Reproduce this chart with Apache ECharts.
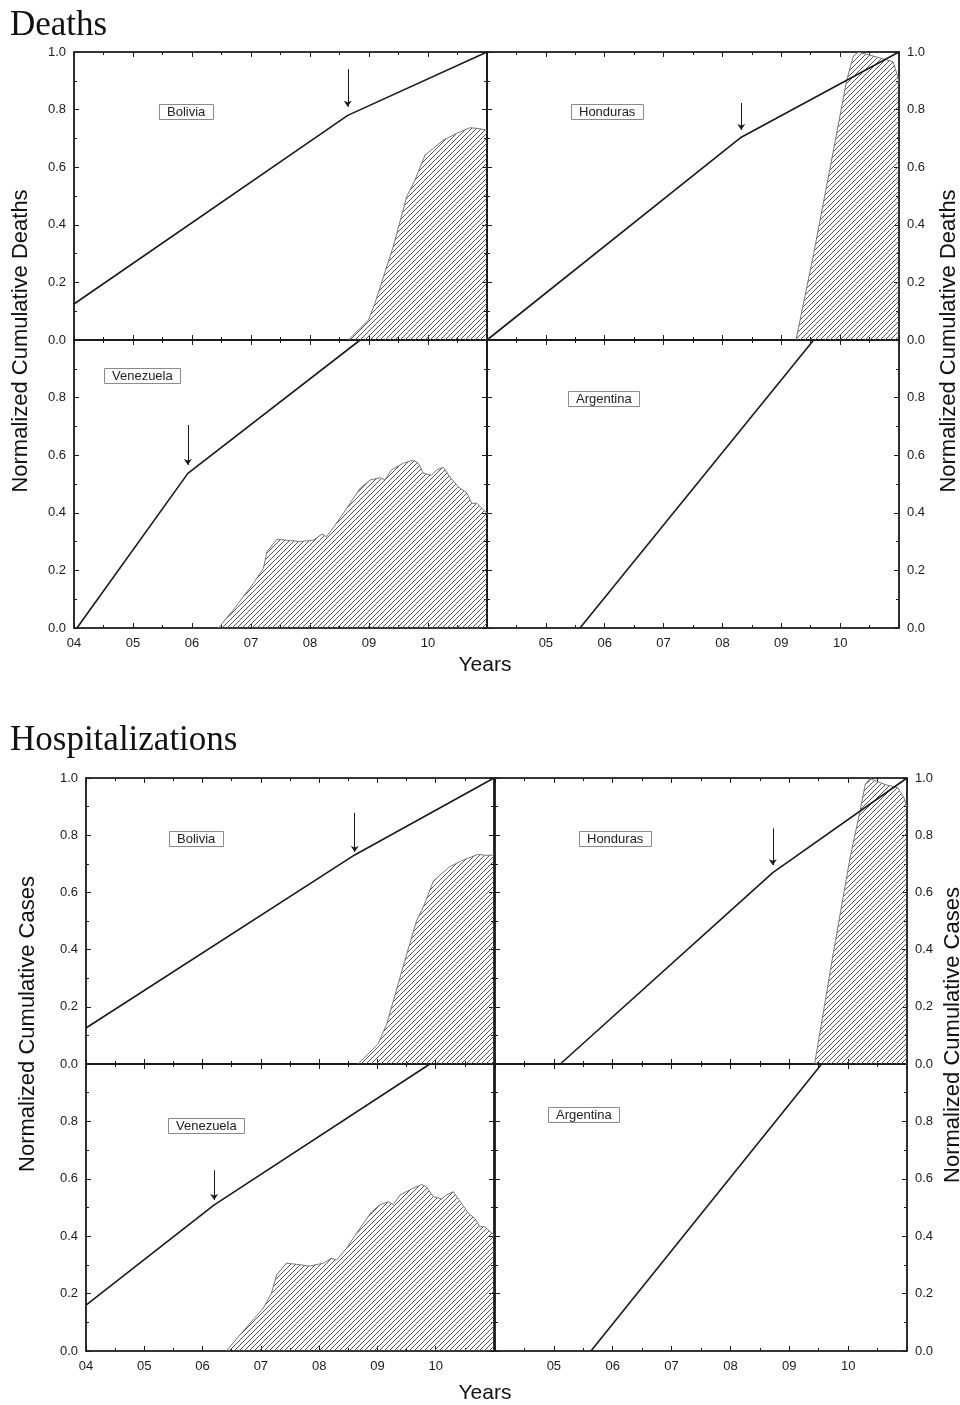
<!DOCTYPE html>
<html>
<head>
<meta charset="utf-8">
<script src="https://cdn.jsdelivr.net/npm/echarts@6/dist/echarts.min.js"></script>
<style>
  html, body { margin: 0; padding: 0; background: #fff; }
  #chart { width: 960px; height: 1405px; }
</style>
</head>
<body>
<div id="chart"></div>
<script>
// x = year (4 -> 2004), y = normalized cumulative value
const yearLabels = ["04", "05", "06", "07", "08", "09", "10", "11"]
const yTickLabels = ["0.0", "0.2", "0.4", "0.6", "0.8", "1.0"]

// Deaths: cumulative lines
const deathsBoliviaLine = [[4.0, 0.125], [8.64, 0.78], [11.0, 1.0]]
const deathsHondurasLine = [[4.0, 0.0], [8.32, 0.704], [11.0, 1.0]]
const deathsVenezuelaLine = [[4.05, 0.0], [5.93, 0.537], [8.85, 1.0]]
const deathsArgentinaLine = [[5.58, 0.0], [9.55, 1.0]]

// Deaths: hatched curves
const deathsBoliviaShade = [[8.65, 0], [8.99, 0.069], [9.10, 0.127], [9.41, 0.324], [9.64, 0.498], [9.78, 0.556], [9.95, 0.642], [10.26, 0.694], [10.49, 0.718], [10.71, 0.737], [10.83, 0.735], [11.0, 0.729]]
const deathsHondurasShade = [[9.25, 0], [9.55, 0.3], [9.85, 0.62], [10.11, 0.9], [10.22, 0.984], [10.30, 1.0], [10.56, 0.986], [10.90, 0.966], [10.98, 0.914], [11.0, 0.89]]
const deathsVenezuelaShade = [[6.45, 0], [6.70, 0.063], [7.04, 0.155], [7.21, 0.207], [7.27, 0.265], [7.44, 0.308], [7.60, 0.305], [7.83, 0.30], [8.06, 0.305], [8.20, 0.326], [8.28, 0.317], [8.45, 0.364], [8.68, 0.433], [8.85, 0.485], [9.02, 0.514], [9.19, 0.522], [9.27, 0.514], [9.38, 0.549], [9.58, 0.572], [9.75, 0.583], [9.84, 0.572], [9.92, 0.537], [10.06, 0.531], [10.15, 0.549], [10.26, 0.558], [10.37, 0.525], [10.51, 0.491], [10.66, 0.468], [10.74, 0.433], [10.83, 0.433], [11.0, 0.398]]
const deathsArgentinaShade = []

// Deaths: arrows [x, from, to]
const deathsBoliviaArrow = [8.64, 0.94, 0.81]
const deathsHondurasArrow = [8.32, 0.823, 0.729]
const deathsVenezuelaArrow = [5.93, 0.705, 0.566]

// Hospitalizations: cumulative lines
const casesBoliviaLine = [[4.0, 0.126], [8.61, 0.731], [11.0, 1.0]]
const casesHondurasLine = [[5.11, 0.0], [8.72, 0.669], [11.0, 1.0]]
const casesVenezuelaLine = [[4.0, 0.16], [6.20, 0.509], [9.90, 1.0]]
const casesArgentinaLine = [[5.63, 0.0], [9.55, 1.0]]

// Hospitalizations: hatched curves
const casesBoliviaShade = [[8.67, 0], [9.01, 0.07], [9.16, 0.14], [9.44, 0.34], [9.67, 0.50], [9.81, 0.56], [9.96, 0.64], [10.24, 0.69], [10.47, 0.713], [10.73, 0.733], [10.84, 0.73], [11.0, 0.73]]
const casesHondurasShade = [[9.43, 0], [9.75, 0.39], [10.03, 0.718], [10.20, 0.883], [10.29, 0.977], [10.37, 0.998], [10.63, 0.977], [10.85, 0.965], [10.95, 0.93], [11.0, 0.9]]
const casesVenezuelaShade = [[6.41, 0], [6.64, 0.056], [7.04, 0.149], [7.18, 0.20], [7.27, 0.265], [7.44, 0.306], [7.61, 0.302], [7.84, 0.296], [8.07, 0.306], [8.21, 0.323], [8.30, 0.317], [8.47, 0.358], [8.70, 0.428], [8.90, 0.485], [9.04, 0.509], [9.19, 0.52], [9.27, 0.51], [9.39, 0.544], [9.61, 0.567], [9.76, 0.58], [9.84, 0.572], [9.96, 0.538], [10.10, 0.53], [10.19, 0.544], [10.30, 0.555], [10.44, 0.515], [10.56, 0.48], [10.67, 0.462], [10.76, 0.433], [10.84, 0.433], [11.0, 0.404]]
const casesArgentinaShade = []

// Hospitalizations: arrows [x, from, to]
const casesBoliviaArrow = [8.61, 0.878, 0.741]
const casesHondurasArrow = [8.72, 0.824, 0.695]
const casesVenezuelaArrow = [6.20, 0.63, 0.526]

const panels = [
  { name: "Bolivia", box: [74, 52, 413, 288], left: true, bottom: false, line: deathsBoliviaLine, shade: deathsBoliviaShade, arrow: deathsBoliviaArrow, label: [159, 104] },
  { name: "Honduras", box: [487, 52, 412, 288], left: false, bottom: false, line: deathsHondurasLine, shade: deathsHondurasShade, arrow: deathsHondurasArrow, label: [571, 104] },
  { name: "Venezuela", box: [74, 340, 413, 288], left: true, bottom: true, line: deathsVenezuelaLine, shade: deathsVenezuelaShade, arrow: deathsVenezuelaArrow, label: [104, 368] },
  { name: "Argentina", box: [487, 340, 412, 288], left: false, bottom: true, line: deathsArgentinaLine, shade: deathsArgentinaShade, arrow: null, label: [568, 391] },
  { name: "Bolivia", box: [86, 778, 408, 286], left: true, bottom: false, line: casesBoliviaLine, shade: casesBoliviaShade, arrow: casesBoliviaArrow, label: [169, 831] },
  { name: "Honduras", box: [495, 778, 412, 286], left: false, bottom: false, line: casesHondurasLine, shade: casesHondurasShade, arrow: casesHondurasArrow, label: [579, 831] },
  { name: "Venezuela", box: [86, 1064, 408, 287], left: true, bottom: true, line: casesVenezuelaLine, shade: casesVenezuelaShade, arrow: casesVenezuelaArrow, label: [168, 1118] },
  { name: "Argentina", box: [495, 1064, 412, 287], left: false, bottom: true, line: casesArgentinaLine, shade: casesArgentinaShade, arrow: null, label: [548, 1107] }
]

const chart = echarts.init(document.getElementById("chart"), null, { renderer: "canvas" })

// diagonal hatch pattern for the shaded curves
const hatch = document.createElement("canvas")
hatch.width = 5
hatch.height = 5
const hctx = hatch.getContext("2d")
hctx.strokeStyle = "#555"
hctx.lineWidth = 1
hctx.beginPath()
hctx.moveTo(0, 5); hctx.lineTo(5, 0)
hctx.moveTo(-1, 1); hctx.lineTo(1, -1)
hctx.moveTo(4, 6); hctx.lineTo(6, 4)
hctx.stroke()

const font = "Liberation Sans"
const ink = "#1a1a1a"

const grids = []
const xAxes = []
const yAxes = []
const series = []
const titles = []

panels.forEach((p, g) => {
  grids.push({ left: p.box[0], top: p.box[1], width: p.box[2], height: p.box[3], show: true, borderColor: ink, borderWidth: 1.2, backgroundColor: "transparent" })

  const xBase = {
    type: "value", gridIndex: g, min: 4, max: 11, interval: 1,
    axisLine: { show: true, onZero: false, lineStyle: { color: ink, width: 1.5 } },
    axisTick: { show: true, inside: true, length: 5, lineStyle: { color: ink } },
    minorTick: { show: true, splitNumber: 2, length: 3, lineStyle: { color: ink } },
    splitLine: { show: false }
  }
  xAxes.push({
    ...xBase, position: "bottom",
    axisLabel: {
      show: p.bottom, showMaxLabel: false, showMinLabel: p.left, margin: 9,
      fontFamily: font, fontSize: 13, color: ink,
      formatter: (v) => yearLabels[Math.round(v) - 4]
    }
  })
  xAxes.push({ ...xBase, position: "top", axisLabel: { show: false } })

  const yBase = {
    type: "value", gridIndex: g, min: 0, max: 1, interval: 0.2,
    axisLine: { show: true, onZero: false, lineStyle: { color: ink, width: 1.5 } },
    axisTick: { show: true, inside: true, length: 5, lineStyle: { color: ink } },
    minorTick: { show: true, splitNumber: 2, length: 3, lineStyle: { color: ink } },
    splitLine: { show: false }
  }
  const yLabel = (show) => ({
    show, showMaxLabel: !p.bottom, margin: 8,
    fontFamily: font, fontSize: 13, color: ink,
    formatter: (v) => yTickLabels[Math.round(v * 5)]
  })
  yAxes.push({ ...yBase, position: "left", axisLabel: yLabel(p.left) })
  yAxes.push({ ...yBase, position: "right", axisLabel: yLabel(!p.left) })

  if (p.shade.length) {
    series.push({
      type: "line", xAxisIndex: 2 * g, yAxisIndex: 2 * g, data: p.shade,
      symbol: "none", z: 2,
      lineStyle: { color: "#777", width: 1 },
      areaStyle: { color: { image: hatch, repeat: "repeat" }, opacity: 1 }
    })
  }
  series.push({
    type: "line", xAxisIndex: 2 * g, yAxisIndex: 2 * g, data: p.line,
    symbol: "none", z: 3,
    lineStyle: { color: ink, width: 1.6 }
  })
  if (p.arrow) {
    series.push({
      type: "lines", coordinateSystem: "cartesian2d", xAxisIndex: 2 * g, yAxisIndex: 2 * g,
      symbol: ["none", "arrow"], symbolSize: 6, z: 4,
      lineStyle: { color: ink, width: 1, opacity: 1 },
      data: [{ coords: [[p.arrow[0], p.arrow[1]], [p.arrow[0], p.arrow[2]]] }]
    })
  }

  titles.push({
    text: p.name, left: p.label[0], top: p.label[1],
    borderColor: "#8a8a8a", borderWidth: 1, padding: [2, 8, 1, 8],
    textStyle: { fontFamily: font, fontSize: 13, fontWeight: "normal", color: "#222" }
  })
})

titles.push({ text: "Deaths", left: 10, top: 8, padding: 0, textStyle: { fontFamily: "Liberation Serif", fontSize: 35, fontWeight: "normal", color: "#111" } })
titles.push({ text: "Hospitalizations", left: 10, top: 723, padding: 0, textStyle: { fontFamily: "Liberation Serif", fontSize: 35, fontWeight: "normal", color: "#111" } })

const sideTitle = (text, x, y) => ({
  type: "text", x, y, rotation: Math.PI / 2,
  style: { text, font: "22px Liberation Sans", fill: "#111", align: "center", verticalAlign: "middle" }
})

chart.setOption({
  animation: false,
  title: titles,
  grid: grids,
  xAxis: xAxes,
  yAxis: yAxes,
  series,
  graphic: [
    sideTitle("Normalized Cumulative Deaths", 21, 341),
    sideTitle("Normalized Cumulative Deaths", 949, 341),
    sideTitle("Normalized Cumulative Cases", 28, 1024),
    sideTitle("Normalized Cumulative Cases", 953, 1035),
    { type: "text", x: 485, y: 665, style: { text: "Years", font: "21px Liberation Sans", fill: "#111", align: "center", verticalAlign: "middle" } },
    { type: "text", x: 485, y: 1393, style: { text: "Years", font: "21px Liberation Sans", fill: "#111", align: "center", verticalAlign: "middle" } }
  ]
})

window.addEventListener("resize", () => chart.resize())
</script>
</body>
</html>
